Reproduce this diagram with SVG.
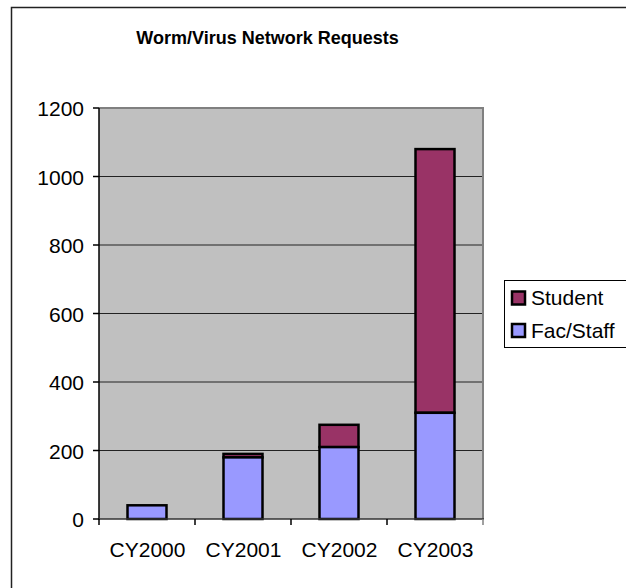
<svg xmlns="http://www.w3.org/2000/svg" width="626" height="588" viewBox="0 0 626 588">
<style>
text{font-family:"Liberation Sans",Arial,sans-serif;fill:#000}
.lbl{font-size:21px}
.yl{font-size:21px;text-anchor:end}
.xl{font-size:21px;text-anchor:middle}
.fac{fill:#9999FF;stroke:#000;stroke-width:2.5}
.stu{fill:#993366;stroke:#000;stroke-width:2.5}
.grid{stroke:#222;stroke-width:1}
.tick{stroke:#000;stroke-width:1.5}
</style>
<rect x="0" y="0" width="626" height="588" fill="#fff"/>
<rect id="frame" x="11.5" y="7.5" width="640" height="600" fill="#fff" stroke="#222" stroke-width="1.5"/>
<text x="267.5" y="44" text-anchor="middle" style="font-size:18px;font-weight:bold">Worm/Virus Network Requests</text>
<g id="plot">
<rect x="99" y="108" width="384" height="411" fill="#C0C0C0"/>
<line class="grid" x1="99" y1="450.5" x2="483" y2="450.5"/>
<line class="grid" x1="99" y1="382" x2="483" y2="382"/>
<line class="grid" x1="99" y1="313.5" x2="483" y2="313.5"/>
<line class="grid" x1="99" y1="245" x2="483" y2="245"/>
<line class="grid" x1="99" y1="176.5" x2="483" y2="176.5"/>
<polyline points="99,108 483,108 483,519" fill="none" stroke="#808080" stroke-width="2"/>
</g>
<g id="bars">
<g id="cy2000"><rect class="fac" x="127.5" y="505.3" width="39" height="13.7"/></g>
<g id="cy2001"><rect class="stu" x="223.5" y="453.9" width="39" height="3.5"/><rect class="fac" x="223.5" y="457.4" width="39" height="61.6"/></g>
<g id="cy2002"><rect class="stu" x="319.5" y="424.8" width="39" height="22.3"/><rect class="fac" x="319.5" y="447.1" width="39" height="71.9"/></g>
<g id="cy2003"><rect class="stu" x="415.5" y="149.1" width="39" height="263.7"/><rect class="fac" x="415.5" y="412.8" width="39" height="106.2"/></g>
</g>
<g id="axes">
<line x1="99" y1="108" x2="99" y2="520" stroke="#000" stroke-width="1.5"/>
<line x1="98" y1="519" x2="484" y2="519" stroke="#333" stroke-width="1.5"/>
<line class="tick" x1="93" y1="108" x2="99" y2="108"/>
<line class="tick" x1="93" y1="176.5" x2="99" y2="176.5"/>
<line class="tick" x1="93" y1="245" x2="99" y2="245"/>
<line class="tick" x1="93" y1="313.5" x2="99" y2="313.5"/>
<line class="tick" x1="93" y1="382" x2="99" y2="382"/>
<line class="tick" x1="93" y1="450.5" x2="99" y2="450.5"/>
<line class="tick" x1="93" y1="519" x2="99" y2="519"/>
<line class="tick" x1="99" y1="519" x2="99" y2="525"/>
<line class="tick" x1="195" y1="519" x2="195" y2="525"/>
<line class="tick" x1="291" y1="519" x2="291" y2="525"/>
<line class="tick" x1="387" y1="519" x2="387" y2="525"/>
<line x1="483" y1="519" x2="483" y2="525" stroke="#808080" stroke-width="1.5"/>
<text class="yl" x="84" y="116">1200</text>
<text class="yl" x="84" y="184.5">1000</text>
<text class="yl" x="84" y="253">800</text>
<text class="yl" x="84" y="321.5">600</text>
<text class="yl" x="84" y="390">400</text>
<text class="yl" x="84" y="458.5">200</text>
<text class="yl" x="84" y="527">0</text>
<text class="xl" x="147.5" y="557">CY2000</text>
<text class="xl" x="243.5" y="557">CY2001</text>
<text class="xl" x="339.5" y="557">CY2002</text>
<text class="xl" x="435.5" y="557">CY2003</text>
</g>
<g id="legend">
<rect x="504.5" y="280.5" width="140" height="67" fill="#fff" stroke="#000" stroke-width="1"/>
<rect class="stu" x="512" y="291.5" width="13" height="13" stroke-width="2"/>
<text class="lbl" x="531" y="305">Student</text>
<rect class="fac" x="512" y="324" width="13" height="13" stroke-width="2"/>
<text class="lbl" x="531" y="337.5">Fac/Staff</text>
</g>
</svg>
